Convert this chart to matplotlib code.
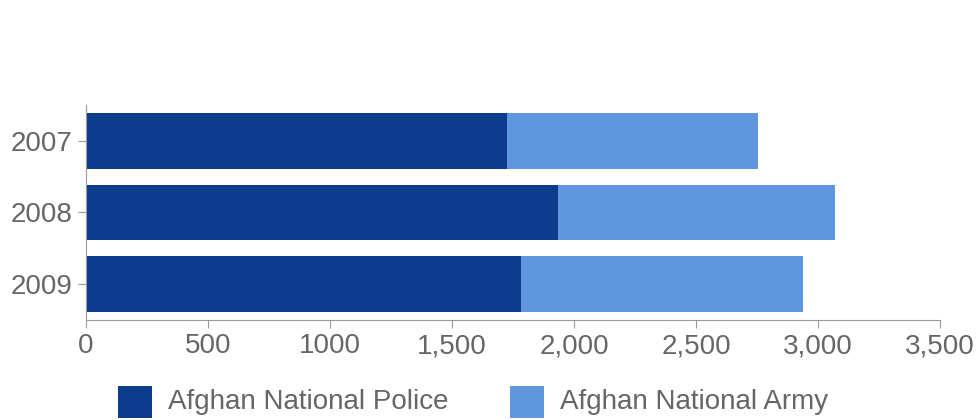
import matplotlib.pyplot as plt
from matplotlib.patches import Rectangle

years = ["2007", "2008", "2009"]
police = [1725, 1934, 1783]
army = [1029, 1136, 1156]
ticks = [0, 500, 1000, 1500, 2000, 2500, 3000, 3500]
tick_labels = ["0", "500", "1000", "1,500", "2,000", "2,500", "3,000", "3,500"]

dark = "#0e3c8c"
light = "#6096de"
grey = "#666666"

plt.rcParams["font.family"] = ["Liberation Sans", "DejaVu Sans"]

fig = plt.figure(figsize=(9.8, 4.2), dpi=100)
ax = fig.add_axes([86 / 980, 1 - 320 / 420, 854 / 980, 215 / 420])

pos = list(range(len(years)))
ax.barh(pos, police, height=0.78, color=dark, label="Afghan National Police")
ax.barh(pos, army, left=police, height=0.78, color=light, label="Afghan National Army")
ax.set_ylim(2.5, -0.5)
ax.set_xlim(0, 3500)
ax.set_yticks(pos)
ax.set_yticklabels(years)
ax.set_xticks(ticks)
ax.set_xticklabels(tick_labels)
ax.tick_params(labelsize=20, colors=grey, length=6, color="#999999")
for s in ["top", "right"]:
    ax.spines[s].set_visible(False)
for s in ["left", "bottom"]:
    ax.spines[s].set_color("#999999")

# legend drawn manually to sit at the bottom like the reference
items = [("Afghan National Police", dark, 118), ("Afghan National Army", light, 510)]
for label, col, px in items:
    fig.patches.append(Rectangle((px / 980, 1 - 418 / 420), 34 / 980, 32 / 420,
                                 transform=fig.transFigure, facecolor=col, edgecolor="none"))
    fig.text((px + 50) / 980, 1 - 402 / 420, label, fontsize=20, color=grey,
             ha="left", va="center")

fig.savefig("out.png", dpi=100)
